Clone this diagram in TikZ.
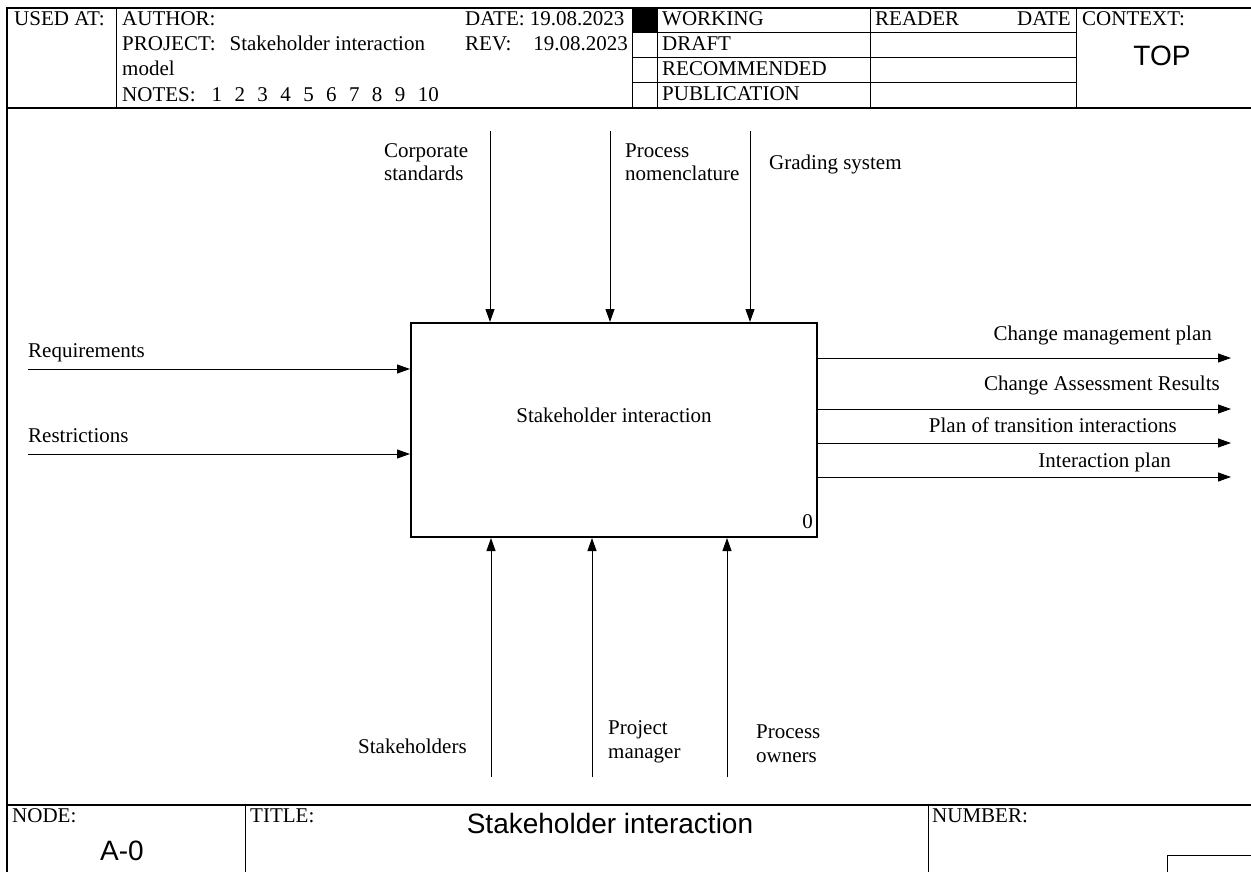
\documentclass[tikz,border=0pt]{standalone}
\usepackage{fontspec}
\setmainfont{Liberation Serif}
\newfontfamily\arialfont{Liberation Sans}
\usetikzlibrary{arrows.meta}

\tikzset{
  lbl/.style={inner sep=0pt, text height=14pt, text depth=4pt, align=left,
    font=\fontsize{21}{24}\selectfont},
  big/.style={inner sep=0pt, font=\arialfont\fontsize{28}{30}\selectfont},
  arr/.style={-{Triangle[length=13pt,width=9pt]}, line width=1pt},
  frameline/.style={line width=1.6pt},
  gridline/.style={line width=1pt},
}
\newcommand{\notegap}{\hspace{12.4pt}}

\begin{document}
\begin{tikzpicture}[x=1pt,y=-1pt]
\useasboundingbox (0,0) rectangle (1251,872);

% frame
\draw[frameline] (1251,8) -- (7,8) -- (7,872);
\draw[frameline] (7,108) -- (1251,108);
\draw[frameline] (7,805) -- (1251,805);

% header
\draw[gridline] (116,8) -- (116,108);
\draw[gridline] (632,8) -- (632,108);
\draw[gridline] (657,8) -- (657,108);
\draw[gridline] (870,8) -- (870,108);
\draw[gridline] (1076,8) -- (1076,108);
\draw[gridline] (632,33) -- (1076,33);
\draw[gridline] (632,58) -- (1076,58);
\draw[gridline] (632,83) -- (1076,83);
\fill (632,8) rectangle (657,33);

\node[lbl, anchor=west] (usedat) at (14,21) {USED AT:};
\node[lbl, anchor=west] (author) at (122,21) {AUTHOR:};
\node[lbl, anchor=west] (date) at (465,21) {DATE: 19.08.2023};
\node[lbl, anchor=west] (project) at (122,46) {PROJECT:\hspace{14pt}Stakeholder interaction};
\node[lbl, anchor=west] (rev) at (465,46) {REV:};
\node[lbl, anchor=east] (revdate) at (628,46) {19.08.2023};
\node[lbl, anchor=west] (model) at (122,71) {model};
\node[lbl, anchor=west] (notes) at (122,97)
  {NOTES:\hspace{16pt}1\notegap 2\notegap 3\notegap 4\notegap 5\notegap 6\notegap 7\notegap 8\notegap 9\notegap 10};

\node[lbl, anchor=west] (working) at (662,21) {WORKING};
\node[lbl, anchor=west] (draft) at (662,46) {DRAFT};
\node[lbl, anchor=west] (recommended) at (662,71) {RECOMMENDED};
\node[lbl, anchor=west] (publication) at (662,96) {PUBLICATION};
\node[lbl, anchor=west] (reader) at (875,21) {READER};
\node[lbl, anchor=east] (readerdate) at (1071,21) {DATE};
\node[lbl, anchor=west] (context) at (1082,21) {CONTEXT:};
\node[big] (top) at (1162,56) {TOP};

% activity box
\node[draw, line width=2pt, minimum width=406pt, minimum height=214pt, inner sep=0pt] (act) at (614,430) {};
\node[lbl] (actlbl) at (614,417) {Stakeholder interaction};
\node[lbl, anchor=east] (actnum) at (813,523) {0};

% controls
\coordinate (ctlA) at (490,131);
\coordinate (ctlB) at (610,131);
\coordinate (ctlC) at (750,131);
\draw[arr] (ctlA) -- (ctlA |- act.north);
\draw[arr] (ctlB) -- (ctlB |- act.north);
\draw[arr] (ctlC) -- (ctlC |- act.north);
\node[lbl, anchor=west] (ctlAlbl) at (384,176) {Corporate\\standards};
\node[lbl, anchor=west] (ctlBlbl) at (625,176) {Process\\nomenclature};
\node[lbl, anchor=west] (ctlClbl) at (769,165) {Grading system};

% inputs
\coordinate (inA) at (28,369);
\coordinate (inB) at (28,454);
\draw[arr] (inA) -- (inA -| act.west);
\draw[arr] (inB) -- (inB -| act.west);
\node[lbl, anchor=west] (inAlbl) at (28,352) {Requirements};
\node[lbl, anchor=west] (inBlbl) at (28,437) {Restrictions};

% outputs
\coordinate (outA) at (1231,358);
\coordinate (outB) at (1231,409);
\coordinate (outC) at (1231,443);
\coordinate (outD) at (1231,477);
\draw[arr] (outA -| act.east) -- (outA);
\draw[arr] (outB -| act.east) -- (outB);
\draw[arr] (outC -| act.east) -- (outC);
\draw[arr] (outD -| act.east) -- (outD);
\node[lbl, anchor=east] (outAlbl) at (1212,335) {Change management plan};
\node[lbl, anchor=east] (outBlbl) at (1220,385) {Change Assessment Results};
\node[lbl, anchor=east] (outClbl) at (1177,427) {Plan of transition interactions};
\node[lbl, anchor=east] (outDlbl) at (1171,462) {Interaction plan};

% mechanisms
\coordinate (mechA) at (491,777);
\coordinate (mechB) at (592,777);
\coordinate (mechC) at (727,777);
\draw[arr] (mechA) -- (mechA |- act.south);
\draw[arr] (mechB) -- (mechB |- act.south);
\draw[arr] (mechC) -- (mechC |- act.south);
\node[lbl, anchor=west] (mechAlbl) at (358,748) {Stakeholders};
\node[lbl, anchor=west] (mechBlbl) at (608,753) {Project\\manager};
\node[lbl, anchor=west] (mechClbl) at (756,757) {Process\\owners};

% footer
\draw[gridline] (245,805) -- (245,872);
\draw[gridline] (928,805) -- (928,872);
\draw[gridline] (1251,855) -- (1167,855) -- (1167,872);
\node[lbl, anchor=west] (node) at (12,817) {NODE:};
\node[big] (nodeid) at (122,851) {A-0};
\node[lbl, anchor=west] (title) at (250,817) {TITLE:};
\node[big] (titletext) at (610,823) {Stakeholder interaction};
\node[lbl, anchor=west] (number) at (932,817) {NUMBER:};

\end{tikzpicture}
\end{document}
